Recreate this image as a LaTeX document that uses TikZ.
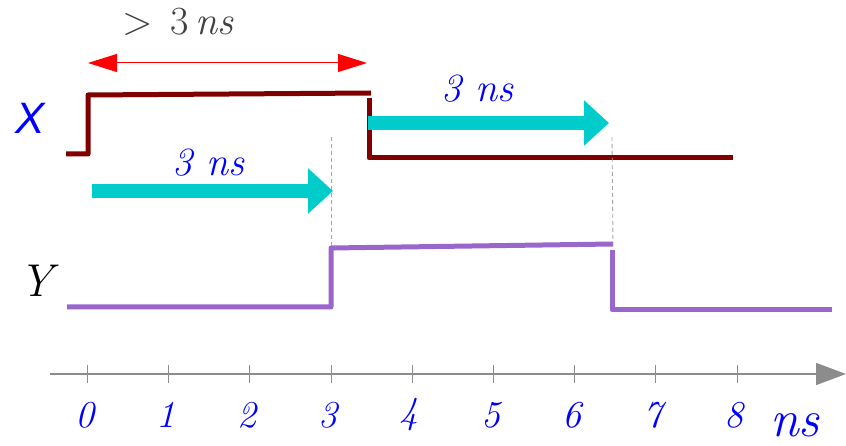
\documentclass[tikz,border=0pt]{standalone}
\usepackage{fontspec}
\newfontfamily\xsans{Liberation Sans}
\usetikzlibrary{arrows.meta}
\definecolor{xred}{HTML}{800000}
\definecolor{ypurple}{HTML}{9966CC}
\definecolor{cyanar}{HTML}{00CCCC}
\definecolor{axgray}{HTML}{8C8C8C}
\definecolor{txtgray}{HTML}{404040}
\tikzset{
  xsig/.style={draw=xred, line width=5pt, line join=round},
  ysig/.style={draw=ypurple, line width=5pt, line join=round},
  delayarrow/.style={draw=cyanar, line width=14pt, -{Triangle[length=25pt,width=44pt]}},
  guide/.style={draw=gray!70, line width=0.9pt, dash pattern=on 4pt off 3pt},
  tickmark/.style={draw=axgray, line width=0.9pt},
  bluelab/.style={text=blue, font=\fontsize{40}{48}\selectfont\itshape, inner sep=0pt},
  digitlab/.style={text=blue, font=\fontsize{38}{46}\selectfont\itshape, inner sep=0pt}
}
\begin{document}
\begin{tikzpicture}[x=1pt,y=-1pt]
\useasboundingbox (0,0) rectangle (846,446);
% red measurement arrow
\coordinate (ra) at (88,63);
\coordinate (rb) at (367,63);
\draw[red, line width=1pt, {Triangle[length=29pt,width=18pt]}-{Triangle[length=29pt,width=18pt]}] (ra) -- (rb);
\node[text=txtgray, font=\fontsize{40}{48}\selectfont, inner sep=0pt] (gt) at (178,22) {>\hspace{18pt}3\,\textit{ns}};
% X signal
\node[text=blue, font=\fontsize{44}{52}\selectfont\xsans\itshape, inner sep=0pt] (xl) at (30,118) {X};
\coordinate (x0) at (66,154);
\coordinate (x1) at (88,154);
\coordinate (x2) at (88,95);
\coordinate (x3) at (371,93);
\coordinate (x4) at (369,98);
\coordinate (x5) at (369,158);
\coordinate (x6) at (733,158);
\draw[xsig] (x0) -- (x1) -- (x2) -- (x3);
\draw[xsig] (x4) -- (x5) -- (x6);
% Y signal
\node[font=\fontsize{46}{54}\selectfont\itshape, inner sep=0pt] (yl) at (36,281) {Y};
\coordinate (y0) at (67,307);
\coordinate (y1) at (331,307);
\coordinate (y2) at (331,248);
\coordinate (y3) at (613,244);
\coordinate (y4) at (612,250);
\coordinate (y5) at (612,310);
\coordinate (y6) at (832,310);
\draw[ysig] (y0) -- (y1) -- (y2) -- (y3);
\draw[ysig] (y4) -- (y5) -- (y6);
% guides
\coordinate (g1) at (331,137);
\coordinate (g2) at (612,137);
\draw[guide] (g1) -- (y2);
\draw[guide] (g2) -- (y3);
% delay arrows
\coordinate (a1s) at (92,191);
\coordinate (a1e) at (333,191);
\coordinate (a2s) at (368,123);
\coordinate (a2e) at (609,123);
\draw[delayarrow] (a1s) -- (a1e);
\draw[delayarrow] (a2s) -- (a2e);
\node[bluelab] (l1) at (208,163) {3 ns};
\node[bluelab] (l2) at (477,89) {3 ns};
% axis
\coordinate (ax0) at (50,374);
\coordinate (ax1) at (846,374);
\draw[axgray, line width=1.5pt, -{Triangle[length=30pt,width=22pt]}] (ax0) -- (ax1);
\foreach \i in {0,...,8} {
  \coordinate (t\i) at (87.5+81.2*\i,374);
  \draw[tickmark] ([yshift=-9pt]t\i) -- ([yshift=9pt]t\i);
  \node[digitlab] (n\i) at (84.5+81.2*\i,415) {\i};
}
\node[text=blue, font=\fontsize{52}{60}\selectfont\itshape, inner sep=0pt] (nsl) at (795,425) {ns};
\end{tikzpicture}
\end{document}
